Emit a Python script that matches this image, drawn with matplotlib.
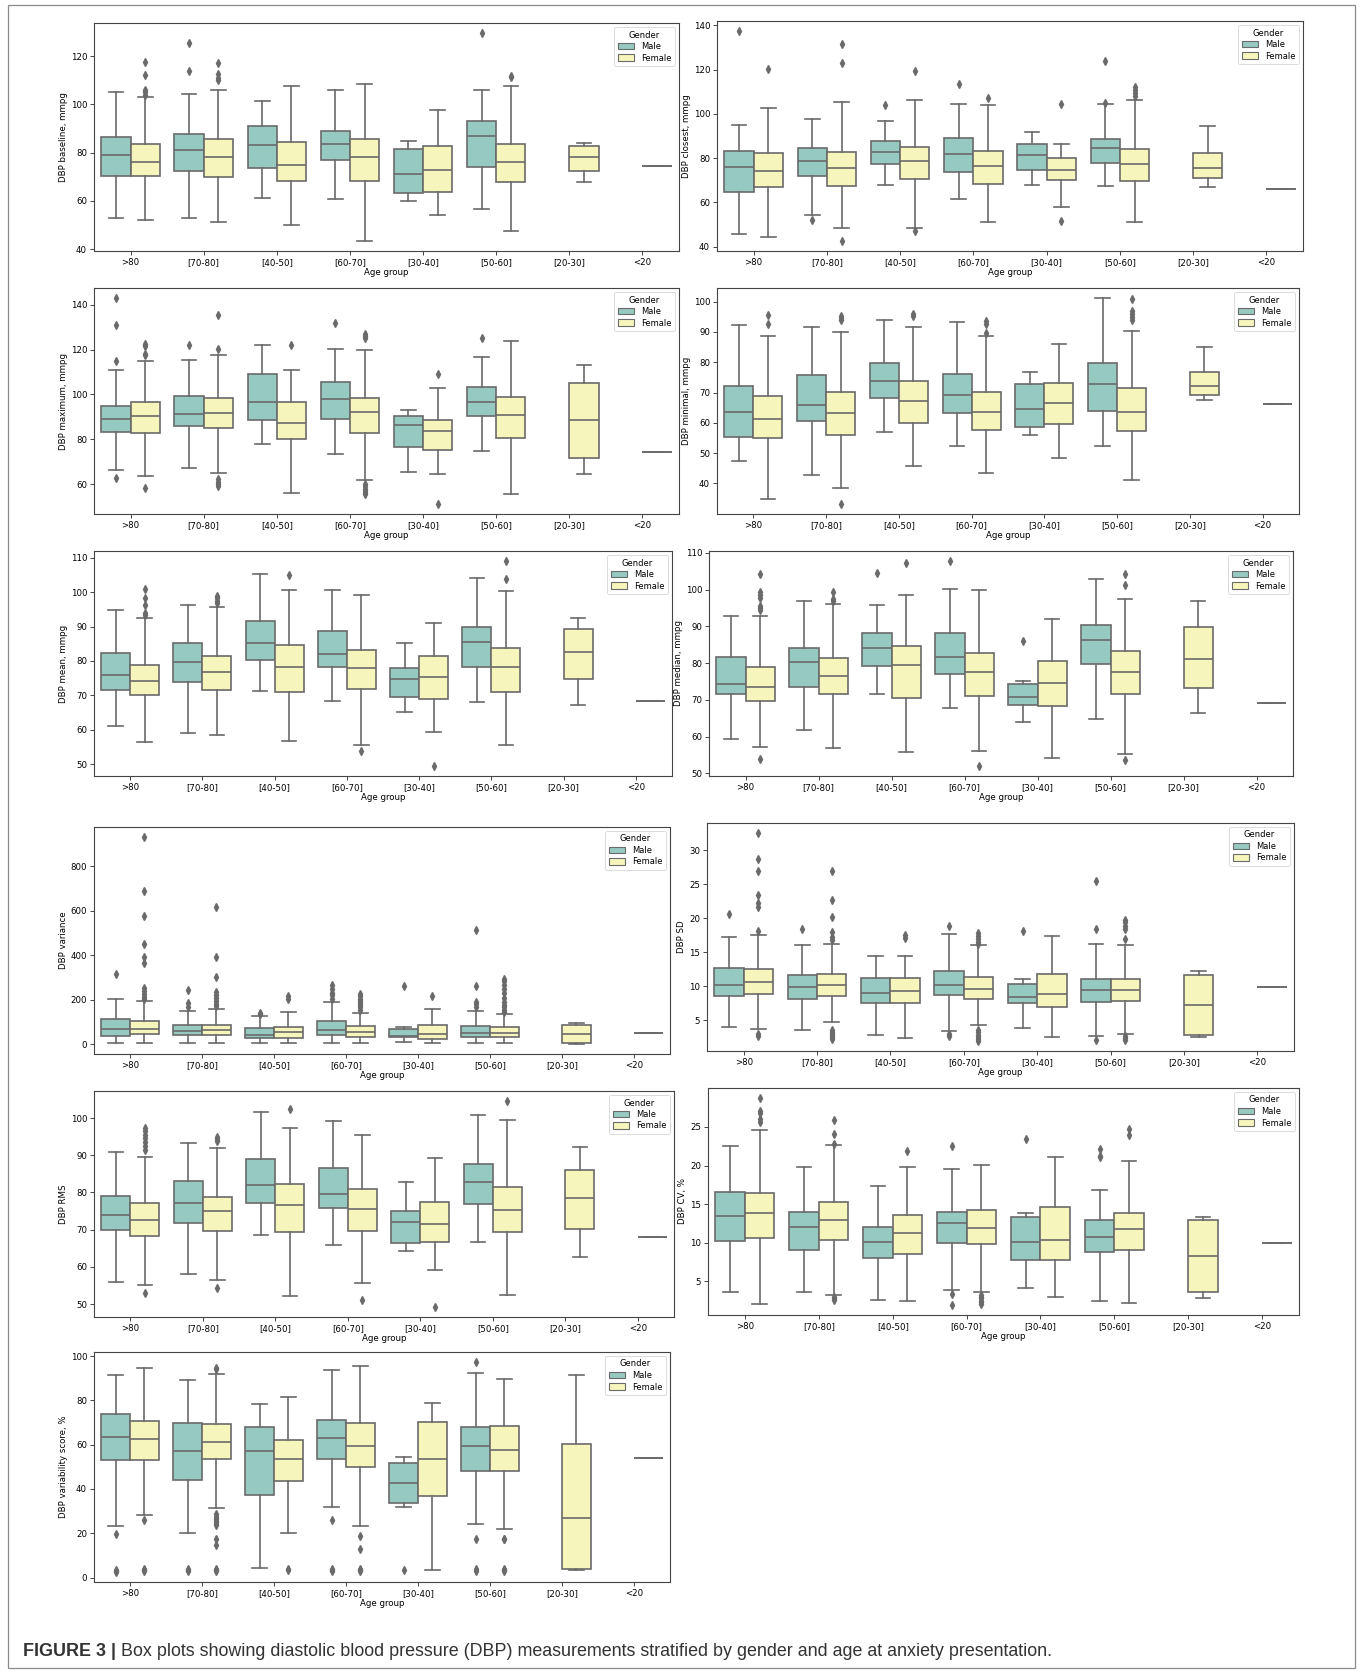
import colorsys
import matplotlib
matplotlib.use("Agg")
import matplotlib.pyplot as plt
from matplotlib.patches import Patch, Rectangle

W, H, DPI = 1362, 1673, 100

age_groups = [">80", "[70-80]", "[40-50]", "[60-70]", "[30-40]", "[50-60]", "[20-30]", "<20"]
genders = ["Male", "Female"]

# Five-number summaries per age group: (lower whisker, Q1, median, Q3, upper whisker)
baseline_male = [(53, 70.2, 79, 86.5, 105), (52.8, 72.5, 81, 87.8, 104.3), (61, 73.6, 83, 91, 101.5),
                 (60.8, 76.8, 83.8, 89, 106), (60, 63.2, 71.3, 81.7, 85), (56.7, 74, 87, 93.3, 106), None, None]
baseline_female = [(52, 70.5, 76.3, 83.7, 103.3), (51.3, 70, 78, 85.5, 106), (50, 68.2, 74.8, 84.6, 107.5),
                   (43.5, 68.2, 78.3, 85.7, 108.3), (54, 63.8, 73, 82.6, 97.6), (47.3, 67.7, 76, 83.8, 107.5),
                   (67.8, 72.3, 78.3, 82.8, 84), (74.3, 74.3, 74.3, 74.3, 74.3)]
baseline_male_out = [[], [114, 125.4], [], [], [], [129.5], [], []]
baseline_female_out = [[104, 105, 106, 112.3, 117.5], [110, 111, 112.5, 117], [], [], [], [111.5, 112], [], []]

closest_male = [(45.8, 64.6, 76, 83, 95.2), (54.1, 71.9, 78.8, 84.5, 97.8), (67.7, 77.3, 82.6, 87.8, 97),
                (61.7, 73.8, 81.7, 89.3, 104.4), (67.8, 74.5, 81.4, 86.6, 92), (67.5, 78, 84.6, 88.5, 104.5), None, None]
closest_female = [(44.3, 66.7, 74.2, 82.1, 102.5), (48.2, 67.4, 75.3, 82.9, 105.2), (48.4, 70.4, 78.7, 85, 106.3),
                  (51.1, 68.4, 76.3, 83, 104), (58.1, 70, 74.5, 80.1, 86.4), (51, 69.7, 77.3, 84.2, 106.1),
                  (66.7, 71.2, 75.3, 82.1, 94.3), (66, 66, 66, 66, 66)]
closest_male_out = [[137.3], [52], [104], [113.7], [], [104.8, 124], [], []]
closest_female_out = [[120.2], [42.7, 123, 131.6], [47.2, 119.5], [107.2], [51.4, 104.6],
                      [108, 109.5, 111, 112], [], []]

maximum_male = [(66.5, 83.3, 89, 95, 111), (67.3, 85.9, 91.5, 99.2, 115.3), (77.8, 88.8, 96.6, 109, 122),
                (73.4, 89.1, 98, 105.7, 120.5), (65.4, 76.7, 86.3, 90.5, 93.2), (74.6, 90.2, 96.8, 103.3, 116.5),
                None, None]
maximum_female = [(63.8, 82.9, 90.6, 96.5, 114.8), (64.9, 84.9, 91.8, 98.3, 117.8), (56.2, 80.2, 87.5, 96.5, 111.1),
                  (62, 83, 92.2, 98.3, 120), (64.7, 75.1, 83.9, 88.5, 102.7), (55.5, 80.5, 90.7, 98.7, 124),
                  (64.7, 71.8, 88.5, 105, 113.1), (74.4, 74.4, 74.4, 74.4, 74.4)]
maximum_male_out = [[62.8, 115.1, 131.2, 142.9], [122.2], [], [131.8], [], [125.3], [], []]
maximum_female_out = [[58.4, 117.5, 118.2, 121.5, 122, 122.6], [59, 60, 61.2, 62.4, 120.3, 135.5], [122.2],
                      [55.5, 56.3, 57, 58, 59, 60, 125, 126, 127], [51.3, 109.3], [], [], []]

minimal_male = [(47.4, 55.3, 63.5, 72.1, 92.2), (42.9, 60.7, 66, 75.9, 91.5), (57.1, 68.1, 73.7, 79.6, 93.8),
                (52.4, 63.3, 69.1, 76.2, 93.3), (56.1, 58.6, 64.7, 72.7, 76.9), (52.2, 63.8, 72.8, 79.6, 101.1),
                None, None]
minimal_female = [(34.7, 54.9, 61.3, 68.7, 88.8), (38.5, 56, 63.3, 70.2, 90), (45.7, 60, 67.1, 73.9, 91.5),
                  (43.4, 57.7, 63.6, 70.3, 88.6), (48.3, 59.7, 66.6, 73, 86), (41.1, 57.4, 63.6, 71.6, 90.2),
                  (67.5, 69.3, 72.1, 76.9, 84.9), (66.2, 66.2, 66.2, 66.2, 66.2)]
minimal_male_out = [[], [], [], [], [], [], [], []]
minimal_female_out = [[92.5, 95.7], [33.3, 94, 94.6, 95.2], [95.3, 96], [89.5, 92.5, 93.5], [],
                      [94, 95, 96, 97, 101], [], []]

mean_male = [(61.1, 71.4, 76, 82.4, 94.8), (59, 73.8, 79.6, 85.1, 96.4), (71.2, 80.3, 85.2, 91.6, 105.2),
             (68.3, 78.3, 82, 88.8, 100.6), (65, 69.4, 74.6, 77.8, 85.2), (68, 78.1, 85.4, 89.9, 104), None, None]
mean_female = [(56.4, 70, 74.1, 78.9, 92.4), (58.5, 71.6, 76.8, 81.4, 95.8), (56.6, 71.1, 78.2, 84.6, 100.6),
               (55.6, 71.8, 77.8, 83.1, 99.2), (59.2, 69, 75.2, 81.3, 91), (55.4, 71.1, 78.1, 83.9, 100.4),
               (67.2, 74.8, 82.7, 89.2, 92.5), (68.3, 68.3, 68.3, 68.3, 68.3)]
mean_male_out = [[], [], [], [], [], [], [], []]
mean_female_out = [[93.5, 94, 96.2, 98.3, 100.8], [96.8, 97.5, 98.3, 99], [105.1], [53.8], [49.5],
                   [103.7, 109], [], []]

median_male = [(59.3, 71.5, 74.3, 81.8, 92.7), (61.9, 73.6, 80.4, 84, 97), (71.5, 79.2, 84.1, 88.1, 95.7),
               (67.7, 77, 81.6, 88.2, 100.2), (64, 68.7, 70.7, 74.3, 75.1), (64.7, 79.9, 86.4, 90.4, 102.9),
               None, None]
median_female = [(57.3, 69.7, 73.6, 79, 92.8), (57, 71.6, 76.5, 81.4, 96), (55.9, 70.6, 79.6, 84.7, 98.4),
                 (56.1, 71, 77.5, 82.7, 99.9), (54.2, 68.3, 74.5, 80.5, 92), (55.4, 71.5, 77.7, 83.4, 97.3),
                 (66.4, 73.2, 81.2, 89.7, 97), (69.2, 69.2, 69.2, 69.2, 69.2)]
median_male_out = [[], [], [104.6], [107.7], [86], [], [], []]
median_female_out = [[53.9, 94.5, 95, 95.6, 97.8, 98.5, 99.3, 104.3], [96.8, 97.5, 99.3], [107.2], [52.1], [],
                     [53.7, 101.3, 104.3], [], []]

variance_male = [(7, 37, 66, 112, 203), (3, 40, 57, 86, 148), (3, 27, 42, 72, 128), (3, 42, 62, 103, 191),
                 (8, 30, 36, 70, 75), (3, 31, 49, 82, 151), None, None]
variance_female = [(3, 45, 70, 104, 196), (3, 42, 63, 88, 158), (3, 27, 53, 78, 146), (3, 34, 53, 82, 142),
                   (3, 25, 45, 88, 160), (3, 32, 52, 75, 134), (2, 3, 45, 85, 95), (52, 52, 52, 52, 52)]
variance_male_out = [[316], [165, 183, 242], [135, 140], [205, 220, 232, 248, 265], [260],
                     [168, 180, 190, 260, 512], [], []]
variance_female_out = [[203, 212, 225, 240, 253, 366, 394, 452, 577, 690, 930],
                       [170, 180, 192, 208, 222, 235, 300, 393, 615], [205, 215],
                       [155, 165, 175, 185, 195, 205, 215, 225], [216],
                       [145, 155, 165, 178, 190, 207, 232, 250, 268, 282, 293], [], []]

sd_male = [(4, 8.5, 10.2, 12.7, 17.2), (3.6, 8.1, 9.9, 11.6, 16), (2.8, 7.5, 9, 11.2, 14.5),
           (3.4, 8.7, 10.2, 12.3, 17.7), (3.9, 7.5, 8.4, 10.4, 11), (2.7, 7.7, 9.4, 11.1, 16.2), None, None]
sd_female = [(3.7, 8.8, 10.7, 12.5, 17.6), (4.7, 8.6, 10.2, 11.8, 16.2), (2.4, 7.6, 9.3, 11.2, 14.4),
             (4.3, 8.2, 9.6, 11.3, 16), (2.5, 6.9, 8.8, 11.8, 17.4), (3, 7.8, 9.5, 11.1, 16),
             (2.6, 2.9, 7.2, 11.6, 12.2), (9.9, 9.9, 9.9, 9.9, 9.9)]
sd_male_out = [[20.7], [18.5], [], [2.7, 3, 18.9], [18.2], [2.1, 18.5, 25.5], [], []]
sd_female_out = [[2.7, 3, 18.1, 21.7, 22.2, 23.5, 27, 28.8, 32.5],
                 [2.3, 2.5, 2.8, 3, 3.2, 3.5, 16.8, 17.2, 18, 20.2, 22.7, 27], [17.1, 17.6],
                 [2, 2.3, 2.6, 2.9, 3.2, 3.5, 16.2, 16.5, 17, 17.4, 17.8], [],
                 [2.1, 2.4, 2.7, 16.9, 18.5, 18.8, 19.5, 19.8], [], []]

rms_male = [(55.9, 69.8, 73.9, 79.1, 90.8), (58, 71.7, 77.3, 83.2, 93.2), (68.5, 77.3, 82, 88.9, 101.7),
            (65.9, 75.7, 79.7, 86.6, 99.1), (64.3, 66.3, 72, 75, 82.9), (66.7, 76.9, 82.9, 87.6, 100.9), None, None]
rms_female = [(55.1, 68.2, 72.5, 77.3, 89.5), (56.6, 69.6, 74.9, 78.9, 92), (52.3, 69.4, 76.7, 82.3, 97.3),
              (55.6, 69.6, 75.6, 80.9, 95.5), (59.2, 66.6, 71.5, 77.5, 89.3), (52.5, 69.3, 75.2, 81.4, 99.4),
              (62.6, 70.3, 78.5, 86.1, 92.1), (68.1, 68.1, 68.1, 68.1, 68.1)]
rms_male_out = [[], [], [], [], [], [], [], []]
rms_female_out = [[53, 91.5, 92.5, 93.5, 94.5, 95.5, 96.5, 97.3], [54.3, 93.8, 94.3, 94.8], [102.3], [51],
                  [49.3], [104.5], [], []]

cv_male = [(3.6, 10.2, 13.5, 16.6, 22.5), (3.6, 9.1, 12, 14, 19.8), (2.6, 8.1, 10.1, 12.1, 17.3),
           (3.9, 10, 12.6, 14, 19.5), (4.2, 7.8, 10.1, 13.4, 13.8), (2.5, 8.8, 10.7, 13, 16.9), None, None]
cv_female = [(2.1, 10.6, 13.8, 16.4, 24.6), (3.3, 10.4, 12.9, 15.3, 22.6), (2.5, 8.5, 11.3, 13.6, 19.8),
             (3.6, 9.9, 11.9, 14.2, 20.1), (3, 7.8, 10.4, 14.6, 21.1), (2.2, 9.1, 11.8, 13.8, 20.6),
             (2.8, 3.6, 8.3, 13, 13.4), (10, 10, 10, 10, 10)]
cv_male_out = [[], [], [], [2, 3.4, 22.5], [23.5], [21.1, 21.3, 22.1], [], []]
cv_female_out = [[25.6, 26, 26.8, 27.1, 28.7], [2.6, 2.8, 3, 22.8, 24.1, 25.9], [21.9],
                 [2.1, 2.3, 2.5, 2.8, 3, 3.2], [], [23.9, 24.7], [], []]

score_male = [(23.3, 53.2, 63.3, 74, 91.5), (20.1, 44.2, 57.2, 69.6, 89.4), (4.1, 37.4, 57.3, 67.8, 78.3),
              (31.8, 53.6, 63.2, 71, 93.5), (31.9, 33.7, 42.9, 51.5, 54.3), (24, 48.3, 59.6, 67.8, 92.2), None, None]
score_female = [(28.4, 53.2, 62.6, 70.5, 94.7), (31.5, 53.5, 61.2, 69.1, 91.9), (20.2, 43.6, 53.5, 61.9, 81.5),
                (23.4, 49.7, 59.3, 69.8, 95.6), (3.3, 36.9, 53.6, 70, 78.7), (21.9, 48, 57.6, 68.2, 89.5),
                (3.3, 3.8, 26.9, 60.3, 91.5), (53.8, 53.8, 53.8, 53.8, 53.8)]
score_male_out = [[2.7, 3, 3.5, 19.6], [3, 3.5, 4], [], [3, 3.5, 4, 26.1], [3.3], [3, 3.7, 17.6, 97.1], [], []]
score_female_out = [[3, 3.5, 4, 26], [3, 3.5, 4, 14.5, 17.3, 23.5, 24.5, 25.5, 26.5, 27.5, 28.8, 94, 94.8],
                    [3.5, 4], [3, 3.5, 4, 13.1, 18.6], [], [3, 3.5, 4, 17.2, 17.6], [], []]

y_labels = ["DBP baseline, mmpg", "DBP closest, mmpg", "DBP maximum, mmpg", "DBP minimal, mmpg",
            "DBP mean, mmpg", "DBP median, mmpg", "DBP variance", "DBP SD", "DBP RMS", "DBP CV, %",
            "DBP variability score, %"]
y_ticks = [range(40, 121, 20), range(40, 141, 20), range(60, 141, 20), range(40, 101, 10),
           range(50, 111, 10), range(50, 111, 10), range(0, 801, 200), range(5, 31, 5),
           range(50, 101, 10), range(5, 26, 5), range(0, 101, 20)]

panels = [
    (baseline_male, baseline_female, baseline_male_out, baseline_female_out),
    (closest_male, closest_female, closest_male_out, closest_female_out),
    (maximum_male, maximum_female, maximum_male_out, maximum_female_out),
    (minimal_male, minimal_female, minimal_male_out, minimal_female_out),
    (mean_male, mean_female, mean_male_out, mean_female_out),
    (median_male, median_female, median_male_out, median_female_out),
    (variance_male, variance_female, variance_male_out, variance_female_out),
    (sd_male, sd_female, sd_male_out, sd_female_out),
    (rms_male, rms_female, rms_male_out, rms_female_out),
    (cv_male, cv_female, cv_male_out, cv_female_out),
    (score_male, score_female, score_male_out, score_female_out),
]

# Axes boxes in pixels: left, top, right, bottom
axes_px = [
    (94, 23, 679, 251), (717, 21, 1303, 251),
    (94, 288, 679, 514), (717, 288, 1299, 514),
    (94, 551, 672, 776), (709, 551, 1293, 776),
    (94, 827, 670, 1054), (707, 823, 1294, 1051),
    (94, 1091, 674, 1317), (708, 1088, 1299, 1315),
    (94, 1352, 670, 1582),
]


def desaturate(hex_color, prop):
    r, g, b = matplotlib.colors.to_rgb(hex_color)
    h, l, s = colorsys.rgb_to_hls(r, g, b)
    return colorsys.hls_to_rgb(h, l, s * prop)


base_colors = ["#8dd3c7", "#ffffb3"]
box_colors = [desaturate(c, 0.75) for c in base_colors]
lum = min(colorsys.rgb_to_hls(*c)[1] for c in box_colors) * 0.6
line_gray = (lum, lum, lum)

TICK_FS = 6.2
plt.rcParams["font.family"] = ["DejaVu Sans"]

fig = plt.figure(figsize=(W / DPI, H / DPI), dpi=DPI)
fig.patch.set_facecolor("white")


def build_stats(summaries, outliers):
    stats, pos = [], []
    for i, (s, out) in enumerate(zip(summaries, outliers)):
        if s is None:
            continue
        lo, q1, med, q3, hi = s
        stats.append(dict(whislo=lo, q1=q1, med=med, q3=q3, whishi=hi, fliers=list(out)))
        pos.append(i)
    return stats, pos


for (male, female, male_out, female_out), ylab, yt, (l, t, r, b) in zip(panels, y_labels, y_ticks, axes_px):
    ax = fig.add_axes([l / W, 1 - b / H, (r - l) / W, (b - t) / H])
    for k, (summ, outs) in enumerate([(male, male_out), (female, female_out)]):
        stats, pos = build_stats(summ, outs)
        offset = -0.2 if k == 0 else 0.2
        ax.bxp(stats, positions=[p + offset for p in pos], widths=0.4, patch_artist=True,
               showfliers=True, manage_ticks=False,
               boxprops=dict(facecolor=box_colors[k], edgecolor=line_gray, linewidth=1.2),
               medianprops=dict(color=line_gray, linewidth=1.2),
               whiskerprops=dict(color=line_gray, linewidth=1.2),
               capprops=dict(color=line_gray, linewidth=1.2),
               flierprops=dict(marker="d", markersize=3.8, markerfacecolor=line_gray,
                               markeredgecolor=line_gray, linestyle="none"))
    ax.set_xlim(-0.5, len(age_groups) - 0.5)
    ax.set_xticks(range(len(age_groups)))
    ax.set_xticklabels(age_groups)
    ax.set_yticks(list(yt))
    ax.tick_params(labelsize=TICK_FS, length=3, width=0.7, color="#444444", pad=2)
    ax.set_xlabel("Age group", fontsize=TICK_FS, labelpad=1)
    ax.set_ylabel(ylab, fontsize=TICK_FS, labelpad=2)
    for sp in ax.spines.values():
        sp.set_color("#444444")
        sp.set_linewidth(0.8)
    handles = [Patch(facecolor=box_colors[i], edgecolor=line_gray, linewidth=0.8, label=g)
               for i, g in enumerate(genders)]
    leg = ax.legend(handles=handles, title="Gender", loc="upper right", fontsize=TICK_FS - 0.2,
                    title_fontsize=TICK_FS - 0.2, handlelength=2.0, handleheight=0.8,
                    borderpad=0.4, labelspacing=0.3, framealpha=0.8)
    leg.get_frame().set_linewidth(0.6)

# Outer frame around the whole figure
fig.add_artist(Rectangle((8 / W, 1 - 1668 / H), (1355 - 8) / W, (1668 - 5) / H,
                         transform=fig.transFigure, fill=False, edgecolor="#8a8a8a", linewidth=0.9))

# Caption
cap_font = ["Liberation Sans", "DejaVu Sans"]
cap_y = 1 - 1651 / H
CAP_FS = 12.9
t1 = fig.text(23 / W, cap_y, "FIGURE 3 |", fontsize=CAP_FS, fontweight="bold", family=cap_font,
              color="#333333", va="center", ha="left")
fig.canvas.draw()
bb = t1.get_window_extent(renderer=fig.canvas.get_renderer())
fig.text((bb.x1 + 5) / W, cap_y,
         "Box plots showing diastolic blood pressure (DBP) measurements stratified by gender and age at anxiety presentation.",
         fontsize=CAP_FS, family=cap_font, color="#333333", va="center", ha="left")

fig.savefig("out.png", dpi=DPI)
